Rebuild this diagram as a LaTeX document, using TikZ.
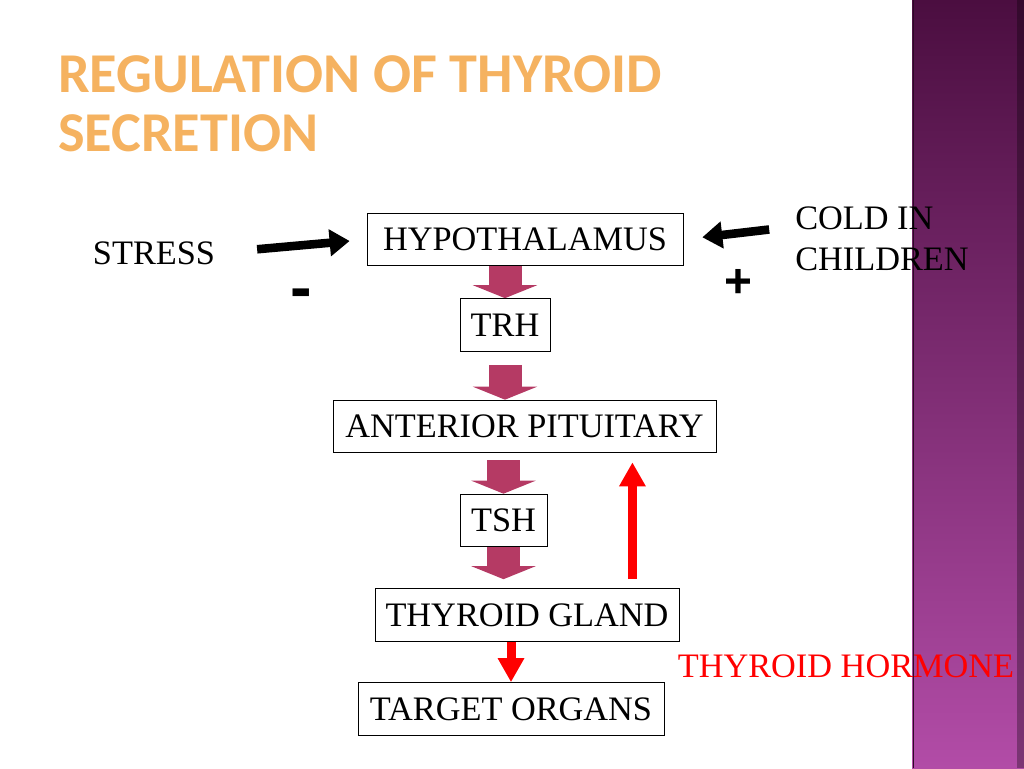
\documentclass[tikz,border=0pt]{standalone}
\usepackage{fontspec}
\setmainfont{Liberation Serif}
\newfontfamily\titlefont{Carlito}
\newfontfamily\signfont{Liberation Sans}
\usetikzlibrary{arrows.meta, calc}
\definecolor{titleorange}{RGB}{245,178,96}
\definecolor{hormonemag}{RGB}{181,58,100}
\definecolor{sidetop}{RGB}{75,14,64}
\definecolor{sidebottom}{RGB}{178,76,167}
\newcommand\slidefont{\fontsize{24.4}{29}\selectfont}
\tikzset{organ/.style={draw,line width=0.6pt,minimum height=13.2mm,inner sep=0pt,font=\slidefont},
         labeltext/.style={inner sep=0pt,font=\slidefont},
         sign/.style={inner sep=0pt,font=\signfont\bfseries\fontsize{34}{34}\selectfont},
         release/.style={draw=hormonemag,line width=8.25mm,-{Triangle[length=3.25mm,width=16mm]}},
         push/.style={line width=2.15mm,-{Triangle[length=5mm,width=6.5mm]}},
         feedback/.style={draw=red,line width=2.25mm,-{Triangle[length=6mm,width=6.25mm]}},
        }
\begin{document}
\begin{tikzpicture}[x=0.25mm,y=0.25mm]
        \useasboundingbox(0,0)rectangle(1024,768);
        % side bar
        \shade[top color=sidetop,bottom color=sidebottom](912,0)rectangle(1024,768);
        \fill[black,opacity=0.3](1017,0)rectangle(1024,768);
        \draw[sidetop!60!black,line width=0.5pt](913.5,0)--(913.5,768);

        \node[anchor=north west,inner sep=0pt,align=left,text=titleorange,font=\titlefont\bfseries\fontsize{40}{42}\selectfont](title)at(58,713){REGULATION OF THYROID\\SECRETION};

        \node[organ,minimum width=79mm](hyp)at(525,528.5){HYPOTHALAMUS};
        \node[organ,minimum width=22.5mm](trh)at(505,443){TRH};
        \node[organ,minimum width=95.75mm](ap)at(524.5,341.5){ANTERIOR PITUITARY};
        \node[organ,minimum width=21.75mm](tsh)at(503.5,247.5){TSH};
        \node[organ,minimum width=76mm](tg)at(527,153){THYROID GLAND};
        \node[organ,minimum width=76.5mm](tgt)at(511,59){TARGET ORGANS};

        \node[labeltext](stress)at(154,515){STRESS};
        \node[labeltext,anchor=west,align=left](cold)at(795,529.5){COLD IN\\CHILDREN};
        \node[labeltext,text=red](hormone)at(846,102){THYROID HORMONE};
        \node[sign,font=\signfont\bfseries\fontsize{46}{46}\selectfont](minus)at(301,469){-};
        \node[sign](plus)at(738,485){+};

        \draw[release](hyp.south -| trh.north)--(trh.north);
        \draw[release,shorten <=3.25mm](trh.south)--(ap.north -| trh.south);
        \draw[release,shorten <=1.75mm](ap.south -| tsh.north)--(tsh.north);
        \draw[release,shorten >=2.25mm](tsh.south)--(tg.north -| tsh.south);

        \draw[push,shorten <=10.5mm,shorten >=4.25mm](stress.east)--(hyp.west);
        \draw[push,shorten <=6.5mm,shorten >=4.75mm]($(cold.west)+(0,12)$)--(hyp.east);

        \draw[feedback,shorten >=2.25mm]($(tg.north east)+(-47,9)$)coordinate(fb)--(fb |- ap.south);
        \draw[feedback](tgt.north |- tg.south)--(tgt.north);
    \end{tikzpicture}
\end{document}
